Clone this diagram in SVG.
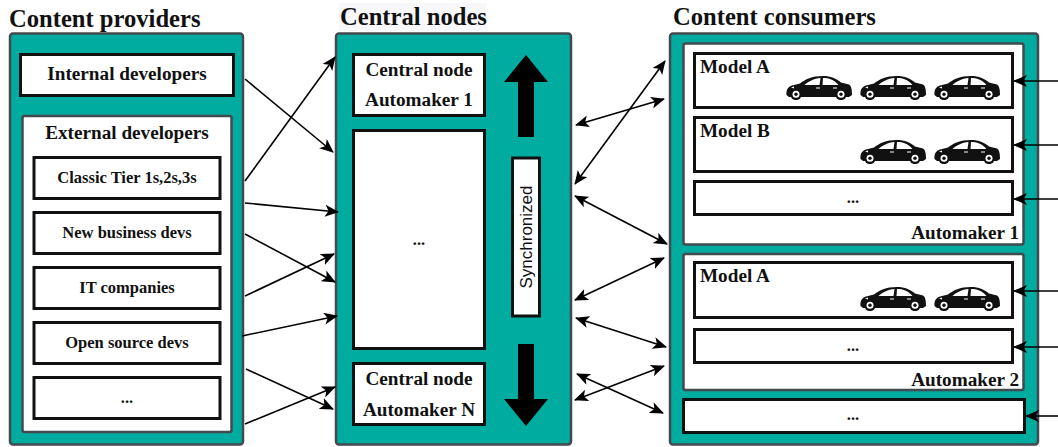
<svg xmlns="http://www.w3.org/2000/svg" xmlns:xlink="http://www.w3.org/1999/xlink" width="1058" height="447" viewBox="0 0 1058 447">
<style>
text{font-family:"Liberation Serif","Times New Roman",serif;font-weight:bold;fill:#111}
.title{font-size:24.600px}
.l{font-size:19.200px;text-anchor:middle}
.s{font-size:16.500px;text-anchor:middle}
.m{font-size:19.200px}
.panel{fill:#00ac9f;stroke:#43494f;stroke-width:2.5}
.group{fill:#fff;stroke:#43494f;stroke-width:2.5}
.box{fill:#fff;stroke:#111;stroke-width:3}
.c{fill:none;stroke:#000;stroke-width:1.6}
.c1{marker-end:url(#a)}
.c2{marker-end:url(#a);marker-start:url(#b)}
</style>
<defs>
<marker id="a" viewBox="0 0 14 12" refX="13" refY="6" markerWidth="14" markerHeight="12" markerUnits="userSpaceOnUse" orient="auto"><path d="M0 0L14 6L0 12L3.5 6Z" fill="#000"/></marker>
<marker id="b" viewBox="0 0 14 12" refX="1" refY="6" markerWidth="14" markerHeight="12" markerUnits="userSpaceOnUse" orient="auto"><path d="M14 0L0 6L14 12L10.500 6Z" fill="#000"/></marker>
<symbol id="car" width="66" height="25" viewBox="0 0 66 25">
<path d="M0.500 20C0 15 2 11.500 6 10.500L14 8.500C19 4.500 26 1 37 1C45 1 50 3.500 55 7.500L63 9.500C65.500 11 66 15 66 20L63 22H3Z" fill="#111"/>
<circle cx="10" cy="19.300" r="5.800" fill="#111"/><circle cx="55" cy="19.300" r="5.800" fill="#111"/>
<circle cx="10" cy="19.300" r="3.500" fill="#fff"/><circle cx="55" cy="19.300" r="3.500" fill="#fff"/>
<circle cx="10" cy="19.300" r="1.700" fill="#111"/><circle cx="55" cy="19.300" r="1.700" fill="#111"/>
<path d="M18.500 10C22 6.500 28 3.500 34.500 3L33.500 10Z M37 3C43 3 47.500 4.500 52.500 10H36.500Z M5 12.500L8 11.500V13.500Z M30 12.500h4v1h-4Z M47 12.500h4v1h-4Z" fill="#fff"/>
</symbol>
</defs>
<text class="title" x="9" y="27">Content providers</text>
<rect x="339" y="3" width="148" height="28" fill="#f8f8fb"/>
<text class="title" x="340" y="25">Central nodes</text>
<text class="title" x="673" y="25">Content consumers</text>
<g id="providers">
<rect class="panel" x="10" y="33.500" width="233" height="411" rx="3"/>
<g id="internal-developers"><rect class="box" x="20.500" y="54.500" width="213" height="41"/><text class="l" x="127" y="80">Internal developers</text></g>
<g id="external-developers"><rect class="group" x="22.500" y="116" width="209" height="316" rx="2"/><text class="l" x="127" y="139">External developers</text></g>
<g id="classic-tier"><rect class="box" x="34" y="157.500" width="186" height="41"/><text class="s" x="127" y="183">Classic Tier 1s,2s,3s</text></g>
<g id="new-business-devs"><rect class="box" x="34" y="212.500" width="186" height="41"/><text class="s" x="127" y="238">New business devs</text></g>
<g id="it-companies"><rect class="box" x="34" y="267.500" width="186" height="41"/><text class="s" x="127" y="293">IT companies</text></g>
<g id="open-source-devs"><rect class="box" x="34" y="322.500" width="186" height="41"/><text class="s" x="127" y="348">Open source devs</text></g>
<g id="provider-more"><rect class="box" x="34" y="377.500" width="186" height="41"/><text class="s" x="127" y="403">...</text></g>
</g>
<g id="central">
<rect class="panel" x="336" y="33.500" width="235" height="411" rx="3"/>
<g id="central-node-1"><rect class="box" x="353.500" y="54.500" width="131" height="61"/><text class="l" x="419" y="76">Central node</text><text class="l" x="419" y="106">Automaker 1</text></g>
<g id="central-node-more"><rect class="box" x="353.500" y="130.500" width="131" height="218"/><text class="s" x="419" y="245">...</text></g>
<g id="central-node-n"><rect class="box" x="353.500" y="363.500" width="131" height="61"/><text class="l" x="419" y="385">Central node</text><text class="l" x="419" y="416">Automaker N</text></g>
<g id="synchronized"><rect class="box" x="512.500" y="158" width="27" height="158"/><text transform="translate(532 237) rotate(-90)" text-anchor="middle" style="font-family:'Liberation Sans',Arial,sans-serif;font-weight:normal;font-size:17px">Synchronized</text></g>
<path id="sync-up" d="M526 55L548 82H534V137H518V82H504Z" fill="#000"/>
<path id="sync-down" d="M526 426L548 399H534V344H518V399H504Z" fill="#000"/>
</g>
<g id="consumers">
<rect class="panel" x="670" y="33.500" width="368" height="411" rx="3"/>
<g id="automaker-1"><rect class="group" x="683.500" y="43.500" width="340" height="201" rx="2"/><text class="m" x="1019" y="239" text-anchor="end">Automaker 1</text></g>
<g id="a1-model-a"><rect class="box" x="694.500" y="53.500" width="318" height="54"/><text class="m" x="700" y="73">Model A</text><use href="#car" x="786" y="75"/><use href="#car" x="860" y="75"/><use href="#car" x="934" y="75"/></g>
<g id="a1-model-b"><rect class="box" x="694.500" y="117.500" width="318" height="54"/><text class="m" x="700" y="137">Model B</text><use href="#car" x="860" y="139"/><use href="#car" x="934" y="139"/></g>
<g id="a1-more"><rect class="box" x="694.500" y="181.500" width="318" height="33"/><text class="s" x="853" y="203">...</text></g>
<g id="automaker-2"><rect class="group" x="683.500" y="254" width="340" height="136" rx="2"/><text class="m" x="1019" y="386" text-anchor="end">Automaker 2</text></g>
<g id="a2-model-a"><rect class="box" x="694.500" y="262.500" width="318" height="55"/><text class="m" x="700" y="282">Model A</text><use href="#car" x="860" y="286"/><use href="#car" x="934" y="286"/></g>
<g id="a2-more"><rect class="box" x="694.500" y="329.500" width="318" height="33"/><text class="s" x="853" y="351">...</text></g>
<g id="consumer-more"><rect class="box" x="683.500" y="399.500" width="341" height="33"/><text class="s" x="853" y="420">...</text></g>
</g>
<g id="connectors">
<line class="c c1" x1="245" y1="79" x2="333" y2="152"/>
<line class="c c1" x1="245" y1="181" x2="335" y2="57"/>
<line class="c c1" x1="245" y1="203" x2="338" y2="212"/>
<line class="c c1" x1="245" y1="234" x2="335" y2="282"/>
<line class="c c1" x1="245" y1="296" x2="334" y2="254"/>
<line class="c c1" x1="242" y1="336" x2="337" y2="316"/>
<line class="c c1" x1="246" y1="369" x2="333" y2="409"/>
<line class="c c1" x1="245" y1="424" x2="335" y2="387"/>
<line class="c c2" x1="576" y1="125" x2="664" y2="99"/>
<line class="c c2" x1="575" y1="184" x2="665" y2="61"/>
<line class="c c2" x1="575" y1="196" x2="667" y2="244"/>
<line class="c c2" x1="575" y1="300" x2="664" y2="258"/>
<line class="c c2" x1="576" y1="318" x2="666" y2="347"/>
<line class="c c2" x1="577" y1="374" x2="663" y2="413"/>
<line class="c c2" x1="575" y1="400" x2="664" y2="366"/>
<line class="c c1" x1="1058" y1="81" x2="1014" y2="81"/>
<line class="c c1" x1="1058" y1="145" x2="1014" y2="145"/>
<line class="c c1" x1="1058" y1="199" x2="1014" y2="199"/>
<line class="c c1" x1="1058" y1="291" x2="1014" y2="291"/>
<line class="c c1" x1="1058" y1="347" x2="1014" y2="347"/>
<line class="c c1" x1="1058" y1="416" x2="1026" y2="416"/>
</g>
</svg>
